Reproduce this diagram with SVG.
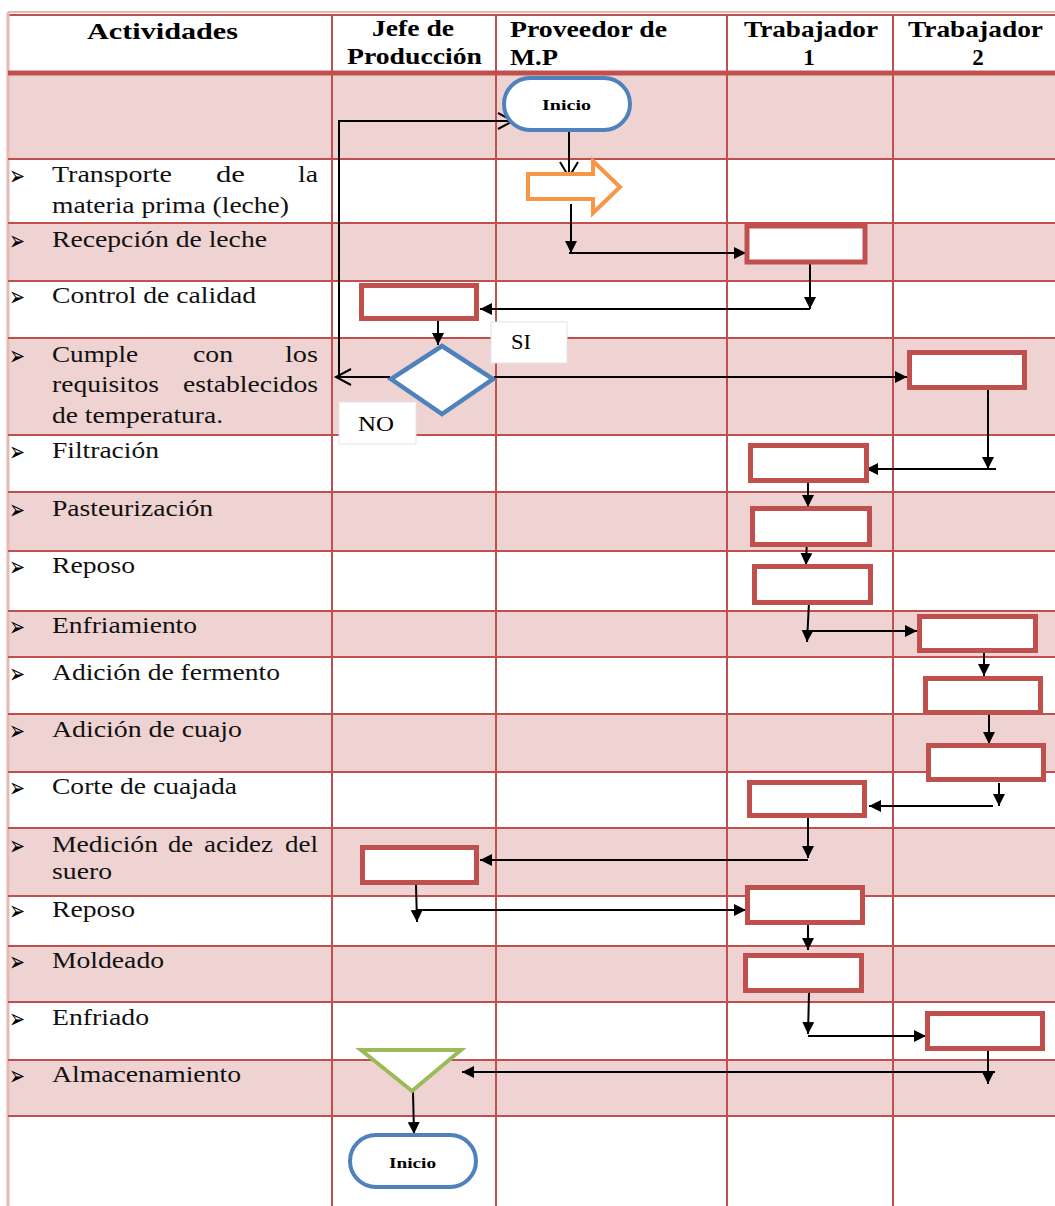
<svg xmlns="http://www.w3.org/2000/svg" width="1055" height="1206" viewBox="0 0 1055 1206">
  <style>
    .band { fill: #EFD3D2; }
    .grid { stroke: #C0504D; stroke-width: 2; fill: none; }
    .hdr { font-family: "Liberation Serif", "Times New Roman", serif; font-weight: bold; font-size: 23px; fill: #000; }
    .act { font-family: "Liberation Serif", "Times New Roman", serif; font-size: 24px; fill: #111; }
    .bul { font-family: "DejaVu Sans", sans-serif; font-size: 27px; fill: #000; }
    .lbl { font-family: "Liberation Serif", "Times New Roman", serif; font-size: 21px; fill: #000; }
    .term { fill: #fff; stroke: #4F81BD; stroke-width: 4; }
    .term-t { font-family: "Liberation Serif", "Times New Roman", serif; font-weight: bold; font-size: 14px; fill: #000; }
    .proc { fill: #fff; stroke: #C0504D; stroke-width: 5; }
    .dec { fill: #fff; stroke: #4F81BD; stroke-width: 4.5; }
    .tri { fill: #fff; stroke: #9BBB59; stroke-width: 4; stroke-linejoin: miter; }
    .move { fill: #fff; stroke: #F79646; stroke-width: 4; }
    .tag { fill: #fff; stroke: #E4E4E4; stroke-width: 1; }
    .c { stroke: #000; stroke-width: 2; fill: none; }
    .ca { stroke: #000; stroke-width: 2; fill: none; marker-end: url(#arr); }
    .open { stroke: #000; stroke-width: 2; fill: none; }
  </style>
  <defs>
    <marker id="arr" markerUnits="userSpaceOnUse" markerWidth="13" markerHeight="13" refX="12" refY="6" orient="auto">
      <path d="M0,0 L12,6 L0,12 Z" fill="#000"/>
    </marker>
  </defs>

  <rect width="1055" height="1206" fill="#fff"/>

  <!-- table: shaded bands -->
  <g id="table">
    <rect class="band" x="8" y="73" width="1047" height="86"/>
    <rect class="band" x="8" y="223" width="1047" height="58"/>
    <rect class="band" x="8" y="338" width="1047" height="97"/>
    <rect class="band" x="8" y="492" width="1047" height="59"/>
    <rect class="band" x="8" y="611" width="1047" height="46"/>
    <rect class="band" x="8" y="714" width="1047" height="58"/>
    <rect class="band" x="8" y="828" width="1047" height="68"/>
    <rect class="band" x="8" y="946" width="1047" height="56"/>
    <rect class="band" x="8" y="1060" width="1047" height="56"/>

    <!-- outer border -->
    <line x1="8" y1="12" x2="1055" y2="12" stroke="#E6B9B8" stroke-width="2"/>
    <line x1="8" y1="15" x2="1055" y2="15" stroke="#C0504D" stroke-width="2"/>
    <line x1="8" y1="12" x2="8" y2="1206" stroke="#E6B9B8" stroke-width="3"/>

    <!-- column dividers -->
    <g class="grid">
      <line x1="332" y1="14" x2="332" y2="1206"/>
      <line x1="496" y1="14" x2="496" y2="1206"/>
      <line x1="727" y1="14" x2="727" y2="1206"/>
      <line x1="893" y1="14" x2="893" y2="1206"/>
    </g>

    <!-- header rule -->
    <line x1="8" y1="73" x2="1055" y2="73" stroke="#C0504D" stroke-width="5"/>

    <!-- row rules -->
    <g class="grid">
      <line x1="8" y1="159" x2="1055" y2="159"/>
      <line x1="8" y1="223" x2="1055" y2="223"/>
      <line x1="8" y1="281" x2="1055" y2="281"/>
      <line x1="8" y1="338" x2="1055" y2="338"/>
      <line x1="8" y1="435" x2="1055" y2="435"/>
      <line x1="8" y1="492" x2="1055" y2="492"/>
      <line x1="8" y1="551" x2="1055" y2="551"/>
      <line x1="8" y1="611" x2="1055" y2="611"/>
      <line x1="8" y1="657" x2="1055" y2="657"/>
      <line x1="8" y1="714" x2="1055" y2="714"/>
      <line x1="8" y1="772" x2="1055" y2="772"/>
      <line x1="8" y1="828" x2="1055" y2="828"/>
      <line x1="8" y1="896" x2="1055" y2="896"/>
      <line x1="8" y1="946" x2="1055" y2="946"/>
      <line x1="8" y1="1002" x2="1055" y2="1002"/>
      <line x1="8" y1="1060" x2="1055" y2="1060"/>
      <line x1="8" y1="1116" x2="1055" y2="1116"/>
    </g>

    <!-- header titles -->
    <text class="hdr" x="87" y="39" textLength="151" lengthAdjust="spacingAndGlyphs">Actividades</text>
    <text class="hdr" x="372" y="36" textLength="82" lengthAdjust="spacingAndGlyphs">Jefe de</text>
    <text class="hdr" x="347" y="64" textLength="135" lengthAdjust="spacingAndGlyphs">Producción</text>
    <text class="hdr" x="510" y="37" textLength="157" lengthAdjust="spacingAndGlyphs">Proveedor de</text>
    <text class="hdr" x="510" y="65" textLength="48" lengthAdjust="spacingAndGlyphs">M.P</text>
    <text class="hdr" x="744" y="37" textLength="134" lengthAdjust="spacingAndGlyphs">Trabajador</text>
    <text class="hdr" x="809" y="65" text-anchor="middle">1</text>
    <text class="hdr" x="908" y="37" textLength="135" lengthAdjust="spacingAndGlyphs">Trabajador</text>
    <text class="hdr" x="978" y="65" text-anchor="middle">2</text>

    <!-- activity list bullets -->
    <g class="bul">
      <text x="9" y="185" textLength="16" lengthAdjust="spacingAndGlyphs">➢</text>
      <text x="9" y="250" textLength="16" lengthAdjust="spacingAndGlyphs">➢</text>
      <text x="9" y="306" textLength="16" lengthAdjust="spacingAndGlyphs">➢</text>
      <text x="9" y="365" textLength="16" lengthAdjust="spacingAndGlyphs">➢</text>
      <text x="9" y="461" textLength="16" lengthAdjust="spacingAndGlyphs">➢</text>
      <text x="9" y="519" textLength="16" lengthAdjust="spacingAndGlyphs">➢</text>
      <text x="9" y="576" textLength="16" lengthAdjust="spacingAndGlyphs">➢</text>
      <text x="9" y="636" textLength="16" lengthAdjust="spacingAndGlyphs">➢</text>
      <text x="9" y="683" textLength="16" lengthAdjust="spacingAndGlyphs">➢</text>
      <text x="9" y="740" textLength="16" lengthAdjust="spacingAndGlyphs">➢</text>
      <text x="9" y="797" textLength="16" lengthAdjust="spacingAndGlyphs">➢</text>
      <text x="9" y="855" textLength="16" lengthAdjust="spacingAndGlyphs">➢</text>
      <text x="9" y="920" textLength="16" lengthAdjust="spacingAndGlyphs">➢</text>
      <text x="9" y="971" textLength="16" lengthAdjust="spacingAndGlyphs">➢</text>
      <text x="9" y="1028" textLength="16" lengthAdjust="spacingAndGlyphs">➢</text>
      <text x="9" y="1085" textLength="16" lengthAdjust="spacingAndGlyphs">➢</text>
    </g>
    <!-- activity names -->
    <g class="act">
      <text x="52" y="182" textLength="120" lengthAdjust="spacingAndGlyphs">Transporte</text>
      <text x="216" y="182" textLength="29" lengthAdjust="spacingAndGlyphs">de</text>
      <text x="298" y="182" textLength="20" lengthAdjust="spacingAndGlyphs">la</text>
      <text x="52" y="213" textLength="237" lengthAdjust="spacingAndGlyphs">materia prima (leche)</text>
      <text x="52" y="247" textLength="215" lengthAdjust="spacingAndGlyphs">Recepción de leche</text>
      <text x="52" y="303" textLength="204" lengthAdjust="spacingAndGlyphs">Control de calidad</text>
      <text x="52" y="362" textLength="86" lengthAdjust="spacingAndGlyphs">Cumple</text>
      <text x="193" y="362" textLength="40" lengthAdjust="spacingAndGlyphs">con</text>
      <text x="285" y="362" textLength="33" lengthAdjust="spacingAndGlyphs">los</text>
      <text x="52" y="392" textLength="107" lengthAdjust="spacingAndGlyphs">requisitos</text>
      <text x="183" y="392" textLength="135" lengthAdjust="spacingAndGlyphs">establecidos</text>
      <text x="52" y="423" textLength="171" lengthAdjust="spacingAndGlyphs">de temperatura.</text>
      <text x="52" y="458" textLength="107" lengthAdjust="spacingAndGlyphs">Filtración</text>
      <text x="52" y="516" textLength="161" lengthAdjust="spacingAndGlyphs">Pasteurización</text>
      <text x="52" y="573" textLength="83" lengthAdjust="spacingAndGlyphs">Reposo</text>
      <text x="52" y="633" textLength="145" lengthAdjust="spacingAndGlyphs">Enfriamiento</text>
      <text x="52" y="680" textLength="228" lengthAdjust="spacingAndGlyphs">Adición de fermento</text>
      <text x="52" y="737" textLength="190" lengthAdjust="spacingAndGlyphs">Adición de cuajo</text>
      <text x="52" y="794" textLength="185" lengthAdjust="spacingAndGlyphs">Corte de cuajada</text>
      <text x="52" y="852" textLength="106" lengthAdjust="spacingAndGlyphs">Medición</text>
      <text x="168" y="852" textLength="25" lengthAdjust="spacingAndGlyphs">de</text>
      <text x="204" y="852" textLength="69" lengthAdjust="spacingAndGlyphs">acidez</text>
      <text x="285" y="852" textLength="33" lengthAdjust="spacingAndGlyphs">del</text>
      <text x="52" y="879" textLength="60" lengthAdjust="spacingAndGlyphs">suero</text>
      <text x="52" y="917" textLength="83" lengthAdjust="spacingAndGlyphs">Reposo</text>
      <text x="52" y="968" textLength="112" lengthAdjust="spacingAndGlyphs">Moldeado</text>
      <text x="52" y="1025" textLength="97" lengthAdjust="spacingAndGlyphs">Enfriado</text>
      <text x="52" y="1082" textLength="189" lengthAdjust="spacingAndGlyphs">Almacenamiento</text>
    </g>
  </g>

  <!-- connectors -->
  <g id="connectors">
    <!-- start to transport -->
    <line class="c" x1="569" y1="132" x2="569" y2="177"/>
    <polyline class="open" points="560,162 569,177 578,162"/>
    <!-- transport to reception -->
    <line class="ca" x1="571" y1="204" x2="571" y2="253"/>
    <line class="ca" x1="569" y1="253" x2="746" y2="253"/>
    <!-- reception to quality control -->
    <line class="ca" x1="810" y1="264" x2="810" y2="309"/>
    <line class="ca" x1="810" y1="309" x2="480" y2="309"/>
    <!-- quality control to decision -->
    <line class="ca" x1="438" y1="321" x2="438" y2="345"/>
    <!-- NO branch back to start -->
    <polyline class="c" points="390,377 339,377 339,121 513,121"/>
    <polyline class="open" points="351,369 336,377 351,385"/>
    <polyline class="open" points="498,113 513,121 498,129"/>
    <!-- SI branch -->
    <line class="ca" x1="494" y1="377" x2="907" y2="377"/>
    <!-- worker 2 to filtration -->
    <line class="ca" x1="988" y1="390" x2="988" y2="469"/>
    <line class="ca" x1="996" y1="469" x2="866" y2="469"/>
    <!-- filtration to pasteurization -->
    <line class="ca" x1="808" y1="483" x2="808" y2="507"/>
    <!-- pasteurization to rest -->
    <line class="ca" x1="807" y1="537" x2="806" y2="565"/>
    <!-- rest to cooling -->
    <line class="ca" x1="809" y1="602" x2="807" y2="642"/>
    <line class="ca" x1="807" y1="631" x2="917" y2="631"/>
    <!-- cooling to ferment -->
    <line class="ca" x1="984" y1="649" x2="984" y2="676"/>
    <!-- ferment to rennet -->
    <line class="ca" x1="989" y1="713" x2="989" y2="744"/>
    <!-- rennet to curd cutting -->
    <line class="ca" x1="999" y1="783" x2="999" y2="806"/>
    <line class="ca" x1="993" y1="806" x2="869" y2="806"/>
    <!-- curd cutting to acidity -->
    <line class="ca" x1="808" y1="818" x2="808" y2="858"/>
    <line class="ca" x1="808" y1="860" x2="480" y2="860"/>
    <!-- acidity to rest -->
    <line class="ca" x1="416" y1="885" x2="417" y2="922"/>
    <line class="ca" x1="416" y1="910" x2="746" y2="910"/>
    <!-- rest to moulding -->
    <line class="ca" x1="808" y1="925" x2="808" y2="950"/>
    <!-- moulding to chilling -->
    <line class="ca" x1="809" y1="993" x2="808" y2="1034"/>
    <line class="ca" x1="808" y1="1036" x2="926" y2="1036"/>
    <!-- chilling to storage -->
    <line class="ca" x1="988" y1="1051" x2="988" y2="1084"/>
    <line class="ca" x1="995" y1="1072" x2="462" y2="1072"/>
    <!-- storage to end -->
    <line class="ca" x1="413" y1="1092" x2="414" y2="1134"/>
  </g>

  <!-- nodes -->
  <g id="start">
    <rect class="term" x="504" y="78" width="126" height="52" rx="26"/>
    <text class="term-t" x="542" y="110" textLength="49" lengthAdjust="spacingAndGlyphs">Inicio</text>
  </g>
  <g id="transport">
    <polygon class="move" points="528,174 593,174 593,161 620,187 593,213 593,199 528,199"/>
  </g>
  <g id="reception"><rect class="proc" x="747" y="226" width="118" height="36"/></g>
  <g id="quality-control"><rect class="proc" x="361.5" y="285.5" width="115" height="33"/></g>
  <g id="decision"><polygon class="dec" points="442,346 493,379 442,414 391,379"/></g>
  <g id="label-si">
    <rect class="tag" x="491" y="322" width="76" height="41"/>
    <text class="lbl" x="511" y="349" textLength="20" lengthAdjust="spacingAndGlyphs">SI</text>
  </g>
  <g id="label-no">
    <rect class="tag" x="339" y="402" width="77" height="42"/>
    <text class="lbl" x="358" y="431" textLength="36" lengthAdjust="spacingAndGlyphs">NO</text>
  </g>
  <g id="temperature-check"><rect class="proc" x="909.5" y="352.5" width="115" height="35"/></g>
  <g id="filtration"><rect class="proc" x="750.5" y="445.5" width="116" height="35"/></g>
  <g id="pasteurization"><rect class="proc" x="752.5" y="508.5" width="117" height="36"/></g>
  <g id="rest-1"><rect class="proc" x="754.5" y="566.5" width="116" height="36"/></g>
  <g id="cooling"><rect class="proc" x="919.5" y="616.5" width="116" height="34"/></g>
  <g id="ferment"><rect class="proc" x="925.5" y="678.5" width="115" height="34"/></g>
  <g id="rennet"><rect class="proc" x="928.5" y="745.5" width="115" height="34"/></g>
  <g id="curd-cutting"><rect class="proc" x="749.5" y="782.5" width="115" height="33"/></g>
  <g id="acidity"><rect class="proc" x="362.5" y="847.5" width="114" height="35"/></g>
  <g id="rest-2"><rect class="proc" x="747.5" y="887.5" width="115" height="35"/></g>
  <g id="moulding"><rect class="proc" x="745.5" y="955.5" width="116" height="35"/></g>
  <g id="chilling"><rect class="proc" x="927.5" y="1013.5" width="115" height="35"/></g>
  <g id="storage"><polygon class="tri" points="361,1050 461,1050 412,1091"/></g>
  <g id="end">
    <rect class="term" x="350" y="1135" width="126" height="52" rx="26"/>
    <text class="term-t" x="389" y="1168" textLength="47" lengthAdjust="spacingAndGlyphs">Inicio</text>
  </g>
</svg>
